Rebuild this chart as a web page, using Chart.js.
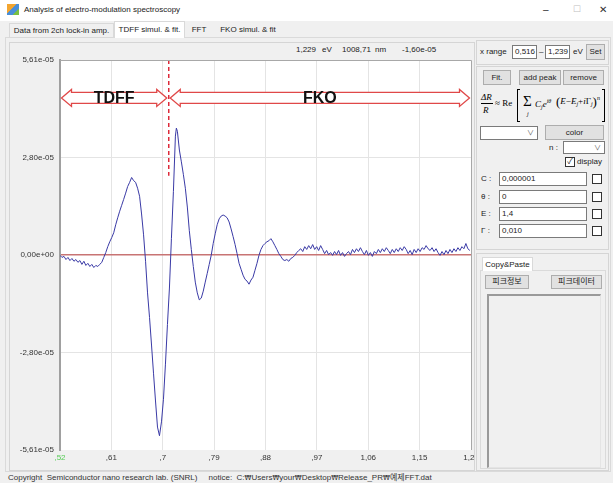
<!DOCTYPE html>
<html>
<head>
<meta charset="utf-8">
<title>Analysis of electro-modulation spectroscopy</title>
<script src="https://cdn.jsdelivr.net/npm/chart.js@4.4.1/dist/chart.umd.min.js"></script>
<style>
    body { margin: 0; width: 613px; height: 483px; overflow: hidden; position: relative;
           background: #f0f0f0; color: #222; font: 8px "Liberation Sans", "Noto Sans CJK KR", sans-serif; }
    .a { position: absolute; white-space: nowrap; }
    .box { position: absolute; box-sizing: border-box; border: 1px solid #d5d5d5; }
    .btn { position: absolute; box-sizing: border-box; background: #e1e1e1; border: 1px solid #adadad; text-align: center; }
    .inp { position: absolute; box-sizing: border-box; background: #fff; border: 1px solid #7a7a7a; padding-left: 2px; }
    .chk { position: absolute; box-sizing: border-box; width: 10px; height: 10px; background: #fff; border: 1px solid #333; font-size: 8px; line-height: 8px; text-align: center; }
    .combo { position: absolute; box-sizing: border-box; background: #fff; border: 1px solid #7a7a7a; }
    .combo span { position: absolute; right: 3px; top: 0px; font-size: 7px; color: #555; }
    .tab { position: absolute; box-sizing: border-box; text-align: center; }
    .won { font-family: "DejaVu Sans", sans-serif; font-size: 7px; }
    #formula { position: absolute; left: 480px; top: 88px; width: 126px; height: 36px; font-family: "Liberation Serif", "DejaVu Serif", serif; color: #000; }
    #formula div { position: absolute; white-space: nowrap; }
    #formula sub { font-size: 6px; vertical-align: -2px; }
    #formula sup { font-size: 6px; vertical-align: 4px; }
    #plot { position: absolute; left: 10px; top: 56px; }
</style>
</head>
<body>

<!-- title bar -->
<div class="a" style="left:0;top:0;width:613px;height:21px;background:#fff"></div>
<div class="a" style="left:7px;top:4px;width:12px;height:11px;background:linear-gradient(135deg,#f3a530 0 40%,#4a8fd8 40% 70%,#78c044 70%)"></div>
<div class="a" style="left:24px;top:4px;line-height:12px">Analysis of electro-modulation spectroscopy</div>
<div class="a" style="left:543px;top:4px;font-size:10px;color:#333">&#8211;</div>
<div class="a" style="left:573px;top:4px;font-size:9px;color:#c0c0c0">&#9744;</div>
<div class="a" style="left:599px;top:4px;font-size:10px;color:#333">&#10005;</div>

<!-- tabs -->
<div class="box" style="left:5px;top:37px;width:606px;height:435px;border-color:#dadada"></div>
<div class="tab" style="left:9px;top:23px;width:105px;height:15px;line-height:13px;border:1px solid #d9d9d9;background:#f0f0f0">Data from 2ch lock-in amp.</div>
<div class="tab" style="left:114px;top:21px;width:71px;height:17px;line-height:15px;border:1px solid #d9d9d9;border-bottom:none;background:#fff">TDFF simul. &amp; fit.</div>
<div class="tab" style="left:185px;top:23px;width:28px;height:15px;line-height:13px">FFT</div>
<div class="tab" style="left:213px;top:23px;width:70px;height:15px;line-height:13px">FKO simul. &amp; fit</div>

<!-- chart group -->
<div class="box" style="left:9px;top:42px;width:466px;height:429px"></div>
<div class="a" style="left:296px;top:45px;line-height:10px">1,229</div>
<div class="a" style="left:322px;top:45px;line-height:10px">eV</div>
<div class="a" style="left:342px;top:45px;line-height:10px">1008,71</div>
<div class="a" style="left:375px;top:45px;line-height:10px">nm</div>
<div class="a" style="left:402px;top:45px;line-height:10px">-1,60e-05</div>
<canvas id="plot" width="464" height="412"></canvas>

<!-- x range -->
<div class="box" style="left:476px;top:40px;width:133px;height:25px"></div>
<div class="a" style="left:480px;top:46px;line-height:12px">x range</div>
<div class="inp" style="left:512px;top:45px;width:25px;height:14px;line-height:12px">0,516</div>
<div class="a" style="left:539px;top:46px;line-height:12px">&#8211;</div>
<div class="inp" style="left:545px;top:45px;width:25px;height:14px;line-height:12px">1,239</div>
<div class="a" style="left:573px;top:46px;line-height:12px">eV</div>
<div class="btn" style="left:586px;top:44px;width:19px;height:16px;line-height:14px">Set</div>

<!-- peak group -->
<div class="box" style="left:476px;top:66px;width:133px;height:184px"></div>
<div class="btn" style="left:483px;top:70px;width:28px;height:15px;line-height:13px">Fit.</div>
<div class="btn" style="left:519px;top:70px;width:42px;height:15px;line-height:13px">add peak</div>
<div class="btn" style="left:563px;top:70px;width:41px;height:15px;line-height:13px">remove</div>
<div id="formula">
    <div style="left:1px;top:4px;font-size:9px"><i>&#916;R</i></div>
    <div style="left:1px;top:15px;width:12px;height:0;border-top:1px solid #000"></div>
    <div style="left:3px;top:17px;font-size:9px"><i>R</i></div>
    <div style="left:15px;top:10px;font-size:9px">&#8776; Re</div>
    <div style="left:37px;top:1px;width:3px;height:33px;box-sizing:border-box;border:1px solid #000;border-right:none"></div>
    <div style="left:43px;top:5px;font-size:15px;line-height:16px">&#931;</div>
    <div style="left:47px;top:23px;font-size:6px"><i>j</i></div>
    <div style="left:55px;top:10px;font-size:9px"><i>C</i><sub><i>j</i></sub><i>e</i><sup><i>i&#952;</i></sup></div>
    <div style="left:76px;top:6px;font-size:9px"><span style="font-size:13px;vertical-align:-2px">(</span><i>E</i>&#8722;<i>E</i><sub><i>j</i></sub>+<i>i</i>&#915;<sub><i>j</i></sub><span style="font-size:13px;vertical-align:-2px">)</span><sup><i>n</i></sup></div>
    <div style="left:122px;top:1px;width:3px;height:33px;box-sizing:border-box;border:1px solid #000;border-left:none"></div>
</div>
<div class="combo" style="left:480px;top:126px;width:58px;height:14px"><span>&#8744;</span></div>
<div class="btn" style="left:545px;top:125px;width:59px;height:15px;line-height:13px">color</div>
<div class="a" style="left:549px;top:142px;line-height:11px">n :</div>
<div class="combo" style="left:563px;top:141px;width:42px;height:13px"><span>&#8744;</span></div>
<div class="chk" style="left:565px;top:157px">&#10003;</div>
<div class="a" style="left:577px;top:156px;line-height:12px">display</div>

<div class="a" style="left:481px;top:173px;line-height:12px">C :</div>
<div class="inp" style="left:499px;top:172px;width:88px;height:14px;line-height:12px">0,000001</div>
<div class="chk" style="left:592px;top:174px"></div>
<div class="a" style="left:481px;top:191px;line-height:12px">&#952; :</div>
<div class="inp" style="left:499px;top:190px;width:88px;height:14px;line-height:12px">0</div>
<div class="chk" style="left:592px;top:192px"></div>
<div class="a" style="left:481px;top:208px;line-height:12px">E :</div>
<div class="inp" style="left:499px;top:207px;width:88px;height:14px;line-height:12px">1,4</div>
<div class="chk" style="left:592px;top:209px"></div>
<div class="a" style="left:481px;top:225px;line-height:12px">&#915; :</div>
<div class="inp" style="left:499px;top:224px;width:88px;height:14px;line-height:12px">0,010</div>
<div class="chk" style="left:592px;top:226px"></div>

<!-- copy & paste -->
<div class="box" style="left:476px;top:253px;width:133px;height:218px"></div>
<div class="box" style="left:480px;top:270px;width:126px;height:199px;border-color:#dadada"></div>
<div class="tab" style="left:482px;top:257px;width:51px;height:14px;line-height:13px;background:#fff;border:1px solid #d9d9d9;border-bottom:none">Copy&amp;Paste</div>
<div class="btn" style="left:485px;top:275px;width:44px;height:14px;line-height:12px">피크정보</div>
<div class="btn" style="left:551px;top:275px;width:51px;height:14px;line-height:12px">피크데이터</div>
<div class="a" style="left:487px;top:294px;width:114px;height:174px;box-sizing:border-box;background:#f0f0f0;border:1px solid #e4e4e4;border-left:2px solid #9a9a9a;border-top:2px solid #9a9a9a"></div>

<!-- status bar -->
<div class="a" style="left:8px;top:473px;line-height:10px;color:#333">Copyright&nbsp; Semiconductor nano research lab. (SNRL)&nbsp;&nbsp;&nbsp;&nbsp; notice:&nbsp; C:<span class="won">&#8361;</span>Users<span class="won">&#8361;</span>your<span class="won">&#8361;</span>Desktop<span class="won">&#8361;</span>Release_PR<span class="won">&#8361;</span>예제FFT.dat</div>

<script>
// photon energy (eV)
var energies = [
    0.5160, 0.5195, 0.5230, 0.5265, 0.5300, 0.5335, 0.5370, 0.5405, 0.5440, 0.5475,
    0.5510, 0.5545, 0.5580, 0.5615, 0.5650, 0.5685, 0.5720, 0.5755, 0.5790, 0.5825,
    0.5860, 0.5895, 0.5930, 0.5965, 0.6000, 0.6035, 0.6070, 0.6105, 0.6140, 0.6175,
    0.6210, 0.6245, 0.6280, 0.6315, 0.6350, 0.6385, 0.6420, 0.6455, 0.6490, 0.6525,
    0.6560, 0.6595, 0.6630, 0.6665, 0.6700, 0.6735, 0.6770, 0.6805, 0.6840, 0.6875,
    0.6910, 0.6945, 0.6980, 0.7015, 0.7050, 0.7085, 0.7120, 0.7155, 0.7190, 0.7207, 0.7225,
    0.7260, 0.7295, 0.7330, 0.7365, 0.7400, 0.7435, 0.7470, 0.7505, 0.7540, 0.7575,
    0.7610, 0.7645, 0.7680, 0.7715, 0.7750, 0.7785, 0.7820, 0.7855, 0.7890, 0.7925,
    0.7960, 0.7995, 0.8030, 0.8065, 0.8100, 0.8135, 0.8170, 0.8205, 0.8240, 0.8275,
    0.8310, 0.8345, 0.8380, 0.8415, 0.8450, 0.8485, 0.8520, 0.8555, 0.8590, 0.8625,
    0.8660, 0.8695, 0.8730, 0.8765, 0.8800, 0.8835, 0.8870, 0.8905, 0.8940, 0.8975,
    0.9010, 0.9045, 0.9080, 0.9115, 0.9150, 0.9185, 0.9220, 0.9255, 0.9290, 0.9325,
    0.9360, 0.9395, 0.9430, 0.9465, 0.9500, 0.9535, 0.9570, 0.9605, 0.9640, 0.9675,
    0.9710, 0.9745, 0.9780, 0.9815, 0.9850, 0.9885, 0.9920, 0.9955, 0.9990, 1.0025,
    1.0060, 1.0095, 1.0130, 1.0165, 1.0200, 1.0235, 1.0270, 1.0305, 1.0340, 1.0375,
    1.0410, 1.0445, 1.0480, 1.0515, 1.0550, 1.0585, 1.0620, 1.0655, 1.0690, 1.0725,
    1.0760, 1.0795, 1.0830, 1.0865, 1.0900, 1.0935, 1.0970, 1.1005, 1.1040, 1.1075,
    1.1110, 1.1145, 1.1180, 1.1215, 1.1250, 1.1285, 1.1320, 1.1355, 1.1390, 1.1425,
    1.1460, 1.1495, 1.1530, 1.1565, 1.1600, 1.1635, 1.1670, 1.1705, 1.1740, 1.1775,
    1.1810, 1.1845, 1.1880, 1.1915, 1.1950, 1.1985, 1.2020, 1.2055, 1.2090, 1.2125,
    1.2160, 1.2195, 1.2230, 1.2265, 1.2300, 1.2335, 1.2370
];

// dR/R signal, in units of 1e-6
var signal = [
    -0.1, -0.7, -0.4, -1.3, -0.7, -1.6, -1.0, -1.8, -1.3, -2.1,
    -1.6, -2.7, -1.8, -3.0, -2.4, -3.3, -2.7, -3.6, -3.0, -3.3,
    -2.7, -2.1, -0.7, 0.7, 2.4, 3.8, 5.0, 6.4, 8.7, 10.7,
    12.6, 14.3, 16.0, 17.8, 19.7, 20.9, 22.3, 21.4, 20.9, 19.2,
    16.9, 11.8, 5.8, -1.8, -10.9, -18.0, -25.9, -34.0, -42.0, -49.5,
    -52.0, -48.0, -41.5, -31.4, -20.0, -9.5, 4.7, 18.3, 34.2, 36.5, 35.6,
    30.2, 26.8, 23.2, 19.2, 13.8, 7.0, 1.6, -3.3, -7.8, -10.9,
    -12.9, -12.4, -10.4, -7.8, -5.3, -2.7, -0.1, 3.3, 6.1, 8.7,
    10.4, 11.2, 11.5, 11.2, 10.7, 9.5, 7.5, 5.3, 3.0, 0.4,
    -2.4, -4.1, -5.8, -7.0, -7.5, -8.4, -7.2, -6.4, -4.4, -2.4,
    -0.1, 1.6, 2.7, 3.3, 3.8, 4.1, 4.7, 3.8, 2.7, 1.6,
    0.4, -0.4, -1.3, -1.6, -1.3, -1.8, -1.0, -0.7, -0.1, 0.7,
    1.3, 1.8, 1.0, 2.4, 1.6, 2.7, 1.8, 3.0, 1.6, 2.4,
    1.3, 2.7, 1.6, 0.4, 1.3, 0.1, 0.7, -0.1, 1.0, 0.1,
    1.3, -0.1, 0.7, -0.4, 0.4, 1.0, 0.1, 1.6, 0.7, 1.8,
    1.0, 2.1, 1.0, 0.1, 1.3, -0.1, 0.7, -0.4, 1.0, 0.4,
    1.6, 0.7, 1.8, 1.0, 2.1, 1.3, 0.4, 1.6, 0.7, 1.8,
    1.0, 2.1, 1.3, 2.4, 1.6, 0.4, 1.3, 0.1, 1.6, 0.7,
    1.8, 1.0, 2.1, 1.6, 2.7, 1.8, 1.3, 2.1, 1.0, 1.8,
    0.7, -0.1, 1.0, 0.1, 1.3, 0.4, 1.6, 0.7, 1.8, 1.0,
    2.1, 1.3, 2.4, 1.8, 3.3, 1.8, 1.3
];

// TDFF / FKO boundary marker
var boundaryEnergy = 0.7073;
var boundaryLine = [56.1, 22.8];
var regionNames = ['TDFF', 'FKO'];
var arrowLevel = 45.2;

var xRange = [0.516, 1.239];
var xTicks = [0.516, 0.606375, 0.69675, 0.787125, 0.8775, 0.967875, 1.05825, 1.148625, 1.239];
var xTickLabels = [',52', ',61', ',7', ',79', ',88', ',97', '1,06', '1,15', '1,24'];
var yTicks = [-56.1, -28.05, 0, 28.05, 56.1];
var yTickLabels = ['-5,61e-05', '-2,80e-05', '0,00e+00', '2,80e-05', '5,61e-05'];

function drawArrow(ctx, x0, x1, yc) {
    var hl = 10, hh = 8.5, sh = 5.5;
    ctx.beginPath();
    ctx.moveTo(x0, yc);
    ctx.lineTo(x0 + hl, yc - hh);
    ctx.lineTo(x0 + hl, yc - sh);
    ctx.lineTo(x1 - hl, yc - sh);
    ctx.lineTo(x1 - hl, yc - hh);
    ctx.lineTo(x1, yc);
    ctx.lineTo(x1 - hl, yc + hh);
    ctx.lineTo(x1 - hl, yc + sh);
    ctx.lineTo(x0 + hl, yc + sh);
    ctx.lineTo(x0 + hl, yc + hh);
    ctx.closePath();
    ctx.fillStyle = '#fff';
    ctx.fill();
    ctx.strokeStyle = '#e04848';
    ctx.lineWidth = 1.3;
    ctx.stroke();
}

var panelPlugin = {
    id: 'panel',
    beforeDraw: function (chart) {
        var a = chart.chartArea, ctx = chart.ctx;
        ctx.save();
        ctx.fillStyle = '#fff';
        ctx.fillRect(a.left, a.top, a.right - a.left, a.bottom - a.top);
        ctx.restore();
    },
    beforeDatasetsDraw: function (chart) {
        var ctx = chart.ctx, xs = chart.scales.x, ys = chart.scales.y;
        var xb = xs.getPixelForValue(boundaryEnergy);
        var yc = ys.getPixelForValue(arrowLevel);
        var xl = xs.getPixelForValue(xRange[0]) + 1.5;
        var xr = xs.getPixelForValue(xRange[1]) - 1.5;
        ctx.save();
        drawArrow(ctx, xl, xb - 2, yc);
        drawArrow(ctx, xb + 1.5, xr, yc);
        ctx.fillStyle = '#111';
        ctx.font = 'bold 16px "Liberation Sans", Arial, sans-serif';
        ctx.textAlign = 'center';
        ctx.textBaseline = 'middle';
        ctx.fillText(regionNames[0], (xl + xb - 2) / 2, yc + 1);
        ctx.fillText(regionNames[1], (xb + 1.5 + xr) / 2, yc + 1);
        ctx.restore();
    },
    afterDraw: function (chart) {
        var a = chart.chartArea, ctx = chart.ctx;
        ctx.save();
        ctx.strokeStyle = '#a8a8a8';
        ctx.lineWidth = 1;
        ctx.beginPath();
        ctx.moveTo(a.left, a.top + 0.5);
        ctx.lineTo(a.right + 0.5, a.top + 0.5);
        ctx.lineTo(a.right + 0.5, a.bottom);
        ctx.stroke();
        ctx.restore();
    }
};

var tickFont = { size: 8, family: '"Liberation Sans", Arial, sans-serif' };

var SpectrumChart = new Chart(document.getElementById('plot'), {
    type: 'scatter',
    data: {
        datasets: [
            {
                label: 'signal',
                data: energies.map(function (e, i) { return { x: e, y: signal[i] }; }),
                showLine: true,
                borderColor: '#3a3aa6',
                borderWidth: 1,
                pointRadius: 0,
                order: 2
            },
            {
                label: 'boundary',
                data: boundaryLine.map(function (v) { return { x: boundaryEnergy, y: v }; }),
                showLine: true,
                borderColor: '#dd2a3a',
                borderWidth: 1.5,
                borderDash: [4, 3],
                pointRadius: 0,
                order: 1
            }
        ]
    },
    options: {
        responsive: false,
        animation: false,
        layout: { padding: { top: 4, right: 3, left: 0, bottom: 0 }, autoPadding: false },
        plugins: { legend: { display: false }, tooltip: { enabled: false } },
        scales: {
            x: {
                type: 'linear',
                min: xRange[0],
                max: xRange[1],
                afterBuildTicks: function (s) { s.ticks = xTicks.map(function (v) { return { value: v }; }); },
                afterFit: function (s) { s.height = 18; s.paddingLeft = 0; s.paddingRight = 0; },
                ticks: {
                    autoSkip: false,
                    maxRotation: 0,
                    padding: 3,
                    font: tickFont,
                    color: function (c) { return c.index === 0 ? '#55cc55' : '#333'; },
                    callback: function (v, i) { return xTickLabels[i]; }
                },
                grid: {
                    drawTicks: false,
                    color: function (c) { return (c.index === 0 || c.index === xTicks.length - 1) ? 'rgba(0,0,0,0)' : '#e4e4e4'; }
                },
                border: { display: false }
            },
            y: {
                min: yTicks[0],
                max: yTicks[yTicks.length - 1],
                afterBuildTicks: function (s) { s.ticks = yTicks.map(function (v) { return { value: v }; }); },
                afterFit: function (s) { s.width = 50; s.paddingTop = 0; s.paddingBottom = 0; },
                ticks: {
                    padding: 6,
                    font: tickFont,
                    color: '#333',
                    callback: function (v, i) { return yTickLabels[i]; }
                },
                grid: {
                    drawTicks: false,
                    color: function (c) {
                        if (c.tick.value === 0) return '#c87474';
                        if (Math.abs(c.tick.value) > 56) return 'rgba(0,0,0,0)';
                        return '#e4e4e4';
                    },
                    lineWidth: function (c) { return c.tick.value === 0 ? 1.5 : 1; }
                },
                border: { display: true, color: '#a0a0a0', width: 2 }
            }
        }
    },
    plugins: [panelPlugin]
});
</script>
</body>
</html>
